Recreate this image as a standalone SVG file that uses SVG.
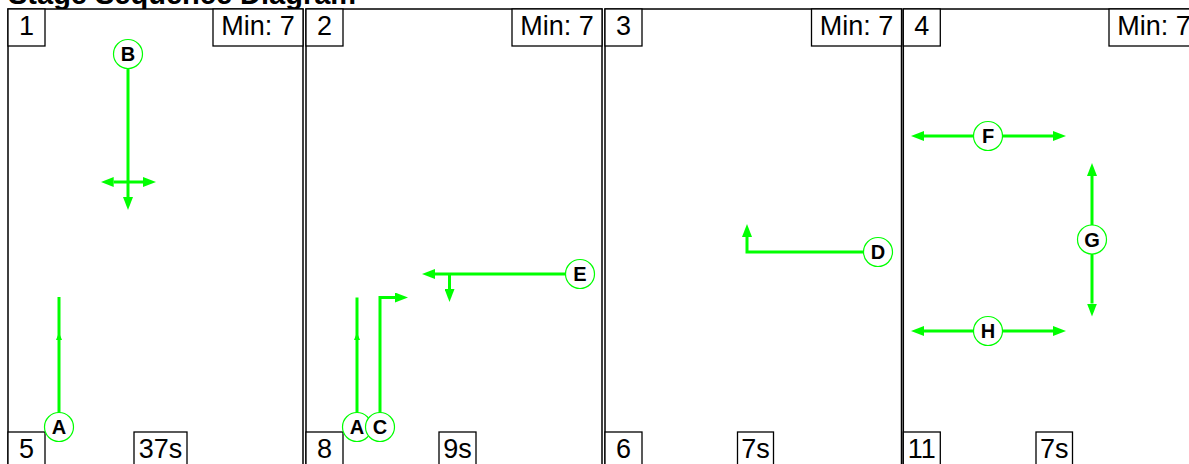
<svg xmlns="http://www.w3.org/2000/svg" width="1189" height="464" viewBox="0 0 1189 464">
<style>
.panel{fill:#fff;stroke:#000;stroke-width:1.5}
.box{fill:#fff;stroke:#000;stroke-width:1.3}
.lbl{font-family:"Liberation Sans",Arial,sans-serif;font-size:27px;fill:#000;text-anchor:middle}
.title{font-family:"Liberation Sans",Arial,sans-serif;font-size:29px;font-weight:bold;fill:#000}
.path{fill:none;stroke:#00ff00;stroke-width:3}
.node circle{fill:#fff;stroke:#00ff00;stroke-width:1.2}
.node text{font-family:"Liberation Sans",Arial,sans-serif;font-size:20px;font-weight:bold;fill:#000;text-anchor:middle}
.mid{fill:#00ff00}
</style>
<defs>
<marker id="ah" viewBox="0 0 13 10" refX="0" refY="5" markerWidth="13" markerHeight="10" markerUnits="userSpaceOnUse" orient="auto-start-reverse">
<path d="M0,0 L13,5 L0,10 z" fill="#00ff00"/>
</marker>
</defs>
<rect width="1189" height="464" fill="#fff"/>
<text class="title" x="8" y="4">Stage Sequence Diagram</text>

<g id="panel1">
<rect class="panel" x="8" y="9" width="295" height="480"/>
<rect class="box" x="8" y="9" width="37" height="37"/><text class="lbl" x="26.5" y="34.5">1</text>
<rect class="box" x="213" y="9" width="90" height="37"/><text class="lbl" x="258" y="34.5">Min: 7</text>
<rect class="box" x="8" y="432" width="37" height="40"/><text class="lbl" x="26.5" y="458">5</text>
<rect class="box" x="134" y="432" width="53" height="40"/><text class="lbl" x="160.5" y="458">37s</text>
</g>
<g id="panel2">
<rect class="panel" x="306" y="9" width="296" height="480"/>
<rect class="box" x="306" y="9" width="37" height="37"/><text class="lbl" x="324.5" y="34.5">2</text>
<rect class="box" x="512" y="9" width="90" height="37"/><text class="lbl" x="557" y="34.5">Min: 7</text>
<rect class="box" x="306" y="432" width="37" height="40"/><text class="lbl" x="324.5" y="458">8</text>
<rect class="box" x="439" y="432" width="37" height="40"/><text class="lbl" x="457.5" y="458">9s</text>
</g>
<g id="panel3">
<rect class="panel" x="605" y="9" width="296.5" height="480"/>
<rect class="box" x="605" y="9" width="37" height="37"/><text class="lbl" x="623.5" y="34.5">3</text>
<rect class="box" x="811.5" y="9" width="90" height="37"/><text class="lbl" x="856.5" y="34.5">Min: 7</text>
<rect class="box" x="605" y="432" width="37" height="40"/><text class="lbl" x="623.5" y="458">6</text>
<rect class="box" x="737.5" y="432" width="36" height="40"/><text class="lbl" x="755.5" y="458">7s</text>
</g>
<g id="panel4">
<rect class="panel" x="903.3" y="9" width="296" height="480"/>
<rect class="box" x="903.3" y="9" width="37" height="37"/><text class="lbl" x="921.8" y="34.5">4</text>
<rect class="box" x="1109" y="9" width="90" height="37"/><text class="lbl" x="1154" y="34.5">Min: 7</text>
<rect class="box" x="903.3" y="432" width="37" height="40"/><text class="lbl" x="921.8" y="458">11</text>
<rect class="box" x="1036" y="432" width="36.5" height="40"/><text class="lbl" x="1054.2" y="458">7s</text>
</g>

<g id="connectors">
<path class="path" d="M128,54 V197" marker-end="url(#ah)"/>
<path class="path" d="M113.7,182 H143" marker-start="url(#ah)" marker-end="url(#ah)"/>
<path class="path" d="M59,427 V297"/>
<polygon class="mid" points="59,332.5 62,340 56,340"/>
<path class="path" d="M357,427 V297.5"/>
<polygon class="mid" points="357,332.5 360,340 354,340"/>
<path class="path" d="M380,427 V297.5 H395" marker-end="url(#ah)"/>
<path class="path" d="M580,274 H435" marker-end="url(#ah)"/>
<path class="path" d="M449.5,274 V289" marker-end="url(#ah)"/>
<path class="path" d="M878,252 H747 V237" marker-end="url(#ah)"/>
<path class="path" d="M924,136 H1053" marker-start="url(#ah)" marker-end="url(#ah)"/>
<path class="path" d="M1092,176 V303.5" marker-start="url(#ah)" marker-end="url(#ah)"/>
<path class="path" d="M924,331 H1053" marker-start="url(#ah)" marker-end="url(#ah)"/>
</g>

<g id="node-B" class="node"><circle cx="128" cy="54" r="14.5"/><text x="128" y="61">B</text></g>
<g id="node-A1" class="node"><circle cx="59" cy="427" r="14.5"/><text x="59" y="434">A</text></g>
<g id="node-A2" class="node"><circle cx="357" cy="427" r="14.5"/><text x="357" y="434">A</text></g>
<g id="node-C" class="node"><circle cx="380" cy="427" r="14.5"/><text x="380" y="434">C</text></g>
<g id="node-E" class="node"><circle cx="580" cy="274" r="14.5"/><text x="580" y="281">E</text></g>
<g id="node-D" class="node"><circle cx="878" cy="252" r="14.5"/><text x="878" y="259">D</text></g>
<g id="node-F" class="node"><circle cx="988" cy="136" r="14.5"/><text x="988" y="143">F</text></g>
<g id="node-G" class="node"><circle cx="1092" cy="239.5" r="14.5"/><text x="1092" y="246.5">G</text></g>
<g id="node-H" class="node"><circle cx="988" cy="331" r="14.5"/><text x="988" y="338">H</text></g>
</svg>
